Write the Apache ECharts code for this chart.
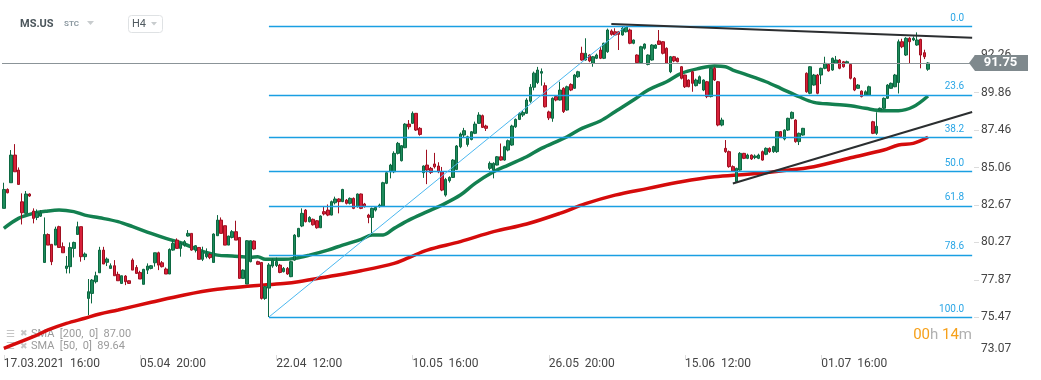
<!DOCTYPE html>
<html><head><meta charset="utf-8">
<script src="https://cdn.jsdelivr.net/npm/echarts@6/dist/echarts.min.js"></script>
<style>html,body{margin:0;padding:0;background:#fff}#c{width:1041px;height:380px}</style>
</head><body><div id="c"></div>
<script>
// ---- data ----
const tradingDays = ['17.03.2021','18.03','19.03','22.03','23.03','24.03','25.03','26.03','29.03','30.03','31.03',
'01.04','05.04','06.04','07.04','08.04','09.04','12.04','13.04','14.04','15.04','16.04','19.04','20.04','21.04','22.04','23.04','26.04','27.04','28.04','29.04','30.04',
'03.05','04.05','05.05','06.05','07.05','10.05','11.05','12.05','13.05','14.05','17.05','18.05','19.05','20.05','21.05','24.05','25.05','26.05','27.05','28.05',
'01.06','02.06','03.06','04.06','07.06','08.06','09.06','10.06','11.06','14.06','15.06','16.06','17.06','18.06','21.06','22.06','23.06','24.06','25.06','28.06','29.06','30.06',
'01.07','02.07','06.07','07.07','08.07','09.07','12.07','13.07','14.07','15.07','16.07','19.07','20.07','21.07','22.07'];
const firstDayHours = ['16:00','20:00'];
const barHours = ['12:00','16:00','20:00'];
const slotCount = 264;
const xTickLabels = ['17.03.2021  16:00','05.04  20:00','22.04  12:00','10.05  16:00','26.05  20:00','15.06  12:00','01.07  16:00'];
const yTickLabels = [73.07, 75.47, 77.87, 80.27, 82.67, 85.06, 87.46, 89.86, 92.26];
const yMin = 73.07, yMax = 94.82;

// [open, close, low, high]
const candles = [
[82.45,83.66,82.45,84.09],[83.66,83.45,83.41,83.73],[84.09,85.86,84.09,86.18],[85.86,84.79,84.79,86.56],[84.90,83.98,83.98,85.07],
[82.87,82.17,81.42,83.41],[82.13,83.37,82.13,83.56],[83.37,83.24,83.19,83.41],[82.28,81.81,81.49,82.45],[81.87,82.17,81.70,82.38],
[81.95,82.15,81.90,82.34],[78.99,80.78,78.99,81.87],[80.78,80.10,80.10,80.85],[80.15,79.04,78.82,80.15],[80.10,81.13,80.10,81.28],
[81.28,79.95,79.95,81.34],[80.00,79.61,79.61,80.27],[78.61,78.76,78.29,79.40],[78.72,79.95,78.29,80.27],[79.89,80.27,79.31,80.32],
[80.78,81.28,80.78,81.60],[81.28,79.36,79.04,81.28],[79.36,79.53,79.14,79.63],[76.69,77.12,75.62,77.93],[77.01,77.86,76.37,77.93],
[77.76,78.14,77.65,78.40],[78.33,79.78,78.33,79.99],[79.78,78.89,78.89,79.99],[79.00,79.21,78.76,79.31],[78.61,78.78,78.61,78.93],
[78.78,78.14,78.14,79.14],[78.23,77.82,77.82,78.40],[77.65,78.14,77.61,78.14],[78.12,77.76,77.54,78.18],[77.82,77.65,77.62,77.84],
[79.14,78.50,78.50,79.25],[78.67,78.29,78.25,78.82],[78.35,77.93,77.93,78.46],[77.59,78.55,77.59,78.58],[78.50,78.76,78.25,78.93],
[78.61,78.78,78.55,78.82],[78.97,79.61,78.72,79.61],[79.61,78.82,78.50,79.68],[78.97,78.72,78.67,79.08],[78.57,78.25,78.25,78.67],
[78.25,79.82,78.25,79.89],[79.78,80.21,79.74,80.42],[80.42,79.89,79.89,80.53],[79.89,80.21,79.36,80.32],[80.10,80.32,80.00,80.42],
[80.68,80.85,80.64,81.06],[80.85,79.78,79.74,80.85],[79.78,80.06,79.63,80.10],[79.95,79.19,79.19,79.95],[79.19,79.68,79.08,80.00],
[79.36,79.53,79.25,79.89],[79.50,79.30,79.20,79.60],[78.99,80.81,78.99,80.85],[80.70,81.70,80.70,82.02],[81.70,80.85,80.85,81.87],
[81.34,80.10,80.10,81.34],[80.10,80.68,80.10,80.70],[80.59,80.96,80.53,81.06],[80.96,80.42,80.42,81.66],[80.59,77.97,77.97,80.59],
[77.97,78.50,77.97,78.55],[77.61,80.38,77.61,80.42],[79.04,80.38,79.00,80.40],[80.36,79.85,79.78,80.40],[79.04,78.87,78.85,79.10],
[78.99,76.69,76.62,78.99],[76.69,77.44,76.60,77.50],[77.35,78.83,75.50,78.95],[78.76,79.14,78.65,79.25],[78.80,79.05,78.70,79.30],
[78.82,78.35,78.30,78.90],[78.40,78.61,78.35,78.70],[78.61,78.25,78.20,78.70],[78.08,79.04,78.05,79.10],[79.14,80.74,79.10,80.80],
[80.64,81.17,80.60,81.20],[81.32,82.13,81.25,82.45],[82.34,81.60,81.55,82.40],[81.60,81.87,81.55,81.95],[81.75,81.40,81.35,81.80],
[81.66,81.21,81.15,81.70],[81.21,81.96,81.20,82.00],[82.24,82.09,82.00,82.60],[82.34,82.02,81.95,82.70],[82.02,82.88,82.00,82.95],
[82.81,83.05,82.70,83.20],[83.05,82.88,82.13,83.10],[82.88,83.66,82.85,83.70],[82.98,82.77,82.70,83.05],[82.77,83.09,82.70,83.15],
[83.09,82.45,82.40,83.15],[82.56,83.37,82.50,83.40],[83.37,82.45,82.40,83.40],[82.73,82.56,82.50,82.80],[82.02,81.87,81.50,82.10],
[81.87,82.45,80.74,82.50],[82.34,82.51,82.25,82.60],[82.56,82.66,82.50,82.75],[82.60,84.09,82.55,84.15],[84.05,84.73,84.00,84.80],
[84.79,85.22,84.37,85.30],[84.79,85.97,84.70,86.10],[85.97,86.61,85.90,86.70],[85.50,86.46,85.45,86.50],[86.33,87.84,86.30,87.90],
[87.84,87.67,87.50,88.10],[87.89,88.53,87.85,88.65],[88.53,87.46,87.40,88.55],[87.57,87.18,87.10,87.65],[84.73,85.16,84.40,85.20],
[85.22,84.90,84.00,86.20],[85.01,84.75,84.65,85.10],[85.29,85.11,85.00,86.00],[85.16,84.79,84.70,85.40],[84.79,83.62,83.55,85.10],
[83.30,84.30,83.20,84.40],[84.22,84.43,84.10,84.50],[84.43,85.54,84.40,85.60],[84.94,86.44,84.90,86.50],[86.39,87.20,86.30,87.30],
[87.14,87.42,87.00,87.60],[86.54,87.03,86.40,87.10],[86.86,87.35,86.80,87.40],[87.25,87.84,87.20,88.00],[87.89,88.42,87.85,88.60],
[88.38,87.63,87.60,88.45],[87.72,87.57,87.40,87.80],[85.01,85.33,84.90,85.45],[84.90,85.33,84.37,85.40],[85.22,85.75,85.20,85.80],
[85.75,85.54,85.50,86.60],[85.54,86.39,85.50,86.45],[86.18,86.78,86.10,86.85],[86.50,87.72,86.45,87.80],[87.67,88.14,87.60,88.20],
[88.14,88.53,88.10,88.60],[88.42,88.59,88.30,88.70],[88.53,89.38,88.50,89.50],[89.30,90.20,89.20,90.40],[90.20,91.10,90.00,91.20],
[90.50,91.30,90.40,91.50],[91.10,91.20,90.30,91.40],[90.30,88.95,88.90,90.50],[88.62,88.24,88.10,88.70],[88.21,89.49,87.99,89.55],
[89.60,89.38,89.30,89.65],[89.38,90.02,89.35,90.55],[90.13,88.64,88.55,90.20],[88.74,90.23,88.70,90.30],[90.38,90.02,89.95,90.45],
[90.13,90.98,90.10,91.05],[90.87,91.19,90.80,91.25],[92.37,91.94,91.90,92.79],[91.94,92.37,91.90,93.33],[92.26,91.88,91.80,92.30],
[91.73,92.15,91.51,92.20],[92.05,92.26,92.00,92.35],[92.58,92.05,92.00,92.79],[92.05,93.01,92.00,93.05],[92.47,93.86,92.40,93.95],
[93.80,93.58,93.50,93.90],[93.75,93.54,93.50,93.97],[93.75,93.58,92.58,93.80],[93.54,93.97,93.50,94.07],[93.75,94.07,93.70,94.11],
[93.86,93.01,92.95,93.95],[93.01,93.22,92.95,93.25],[92.26,91.77,91.70,92.30],[91.77,92.79,91.75,92.85],[92.69,92.96,92.60,93.00],
[91.66,92.26,91.60,92.30],[91.94,92.90,91.90,92.95],[92.69,92.90,92.65,92.95],[93.16,92.94,92.90,93.86],[93.11,92.37,92.30,93.15],
[92.69,91.73,91.70,92.75],[91.19,92.15,91.10,92.20],[92.15,91.88,91.80,92.20],[92.05,91.83,91.80,92.10],[91.51,90.77,90.70,91.55],
[90.98,90.23,90.15,91.00],[90.66,90.23,90.20,90.70],[91.19,90.45,89.91,91.25],[90.30,90.66,90.25,90.75],[90.45,90.87,90.40,90.95],
[90.02,90.66,89.95,90.70],[90.55,89.60,89.50,90.60],[89.60,91.41,89.55,91.45],[91.41,90.66,90.60,91.50],[90.55,87.78,87.70,90.60],
[87.78,88.10,87.70,88.25],[86.29,86.08,86.00,86.82],[86.08,85.12,85.05,86.15],[85.12,84.84,84.80,85.20],[84.16,85.01,84.10,85.05],
[84.90,85.97,84.85,86.05],[85.97,85.65,85.60,86.00],[85.65,85.86,85.60,85.95],[85.86,85.61,85.55,85.90],[85.70,85.80,85.60,85.90],
[85.65,85.86,85.60,85.95],[86.08,85.54,85.50,86.15],[85.91,86.29,85.85,86.35],[86.29,86.08,86.00,86.35],[86.08,86.40,86.00,86.45],
[86.08,87.36,86.00,87.40],[87.36,87.04,87.00,87.40],[86.89,87.46,86.80,87.50],[87.46,88.21,87.40,88.25],[88.21,88.59,88.15,88.65],
[88.10,86.72,86.65,88.15],[86.72,87.25,86.50,87.30],[87.14,87.57,87.10,87.60],[91.09,89.91,89.85,91.15],[89.81,91.51,89.75,91.55],
[90.34,90.98,90.30,91.05],[90.98,89.81,89.75,91.05],[90.98,91.41,90.40,91.45],[91.41,91.73,91.35,92.15],[91.66,91.24,91.20,91.70],
[91.30,92.05,91.25,92.10],[91.73,91.94,91.70,92.20],[91.94,91.41,91.35,92.00],[91.83,91.51,91.45,91.88],[91.73,91.83,91.70,91.90],
[91.66,90.77,90.70,91.70],[90.77,90.02,89.95,90.85],[90.13,90.34,90.10,90.40],[89.95,89.60,89.55,90.00],[89.70,89.91,89.65,90.00],
[89.70,90.23,89.65,90.30],[87.99,87.25,87.20,88.05],[87.25,87.70,87.15,88.60],[88.74,88.85,88.70,88.90],[88.85,89.49,88.80,89.55],
[89.49,90.34,89.45,90.40],[90.13,90.45,90.10,90.50],[90.23,90.98,90.20,91.05],[90.50,93.11,89.80,93.25],[93.11,92.79,92.70,93.30],
[92.26,93.33,92.20,93.40],[93.33,93.11,91.73,93.40],[93.22,93.33,93.15,93.45],[92.90,93.22,92.85,93.71],[93.26,92.26,91.41,93.30],
[92.41,92.15,92.00,92.60],[91.35,91.75,91.25,91.80]
];

// SMA readings [bar index, value]
const sma50 = [[0,81.17],[4,81.81],[8,82.13],[12,82.28],[15,82.34],[19,82.24],[22,82.02],[26,81.85],[31,81.60],[35,81.28],[40,80.85],[44,80.53],[49,80.17],[53,79.78],[58,79.46],[62,79.40],[67,79.32],[69,79.36],[71,79.19],[76,79.19],[79,79.25],[83,79.46],[88,79.78],[92,80.10],[97,80.47],[100,80.74],[103,80.75],[106,81.17],[110,81.70],[115,82.24],[119,82.66],[124,83.30],[128,84.05],[133,84.79],[137,85.22],[142,85.75],[146,86.29],[151,86.82],[153,87.03],[157,87.57],[162,88.04],[166,88.63],[171,89.38],[175,90.02],[180,90.55],[184,91.09],[189,91.41],[193,91.56],[196,91.51],[198,91.30],[202,90.98],[207,90.55],[211,90.13],[216,89.59],[220,89.23],[225,89.11],[230,89.02],[234,88.85],[239,88.70],[243,88.70],[247,88.95],[251,89.64]];
const sma200 = [[0,73.50],[8,74.24],[12,74.67],[17,75.09],[22,75.42],[26,75.69],[31,75.95],[40,76.44],[49,76.91],[58,77.27],[67,77.48],[76,77.65],[80,77.76],[88,78.08],[97,78.46],[106,78.93],[110,79.30],[115,79.78],[124,80.32],[133,80.96],[142,81.45],[151,82.13],[158,82.75],[166,83.30],[175,83.73],[184,84.15],[193,84.47],[202,84.63],[211,84.84],[220,85.11],[230,85.69],[239,86.18],[243,86.50],[247,86.61],[251,87.00]];

const fibRatios = [0, 23.6, 38.2, 50, 61.8, 78.6, 100];
const fibLow = [72, 75.50];
const fibHigh = [169, 94.11];
const trendTop = [[165, 94.24], [263, 93.36]];
const trendBottom = [[198, 84.04], [263, 88.61]];
const lastPrice = 91.75;
const smaLegend = ['SMA  [200,  0]  87.00', 'SMA  [50,  0]  89.64'];

// ---- build ----
const categories = [];
tradingDays.forEach((d, k) => (k === 0 ? firstDayHours : barHours).forEach(h => categories.push(d + '  ' + h)));
categories.length = slotCount;
const lastIdx = slotCount - 1;

const fibLines = fibRatios.map(r => {
  const v = fibHigh[1] - r / 100 * (fibHigh[1] - fibLow[1]);
  return [{coord: [fibLow[0], v]}, {coord: [lastIdx, v], label: {formatter: r.toFixed(1)}}];
});

const chart = echarts.init(document.getElementById('c'), null, {renderer: 'canvas'});
const F = 'Roboto, "Noto Sans", sans-serif';
const showTick = (i, v) => xTickLabels.indexOf(v) >= 0;

chart.setOption({
  animation: false,
  backgroundColor: '#fff',
  grid: {left: 2, right: 67, top: 15, bottom: 25},
  xAxis: {
    type: 'category', data: categories, boundaryGap: true,
    axisLine: {show: false},
    axisTick: {show: true, interval: showTick, alignWithLabel: true, length: 5, lineStyle: {color: '#dcdcdc'}},
    axisLabel: {interval: showTick, align: 'left', color: '#454545', fontSize: 12, fontFamily: F, margin: 3},
    splitLine: {show: false}
  },
  yAxis: {
    type: 'value', position: 'right', min: yMin, max: yMax,
    axisLine: {show: false},
    splitLine: {show: false},
    axisTick: {show: true, customValues: yTickLabels.slice(1), length: 5, lineStyle: {color: '#dcdcdc'}},
    axisLabel: {
      customValues: yTickLabels, color: '#454545', fontSize: 12, fontFamily: F, margin: 7,
      formatter: v => v < yTickLabels[1] - 1 ? '{lo|' + v.toFixed(2) + '}' : v.toFixed(2),
      rich: {lo: {color: '#454545', fontSize: 12, fontFamily: F, padding: [0, 0, 12, 0]}}
    }
  },
  series: [
    {type: 'line', name: 'SMA200', data: sma200, smooth: 0.35, showSymbol: false, z: 2,
     lineStyle: {color: '#d50b0b', width: 3.5}},
    {type: 'line', name: 'SMA50', data: sma50, smooth: 0.35, showSymbol: false, z: 2,
     lineStyle: {color: '#138050', width: 3.5}},
    {type: 'candlestick', name: 'MS.US', data: candles, barWidth: 3, z: 3,
     itemStyle: {color: '#1d8b5b', color0: '#d8213a', borderColor: '#0c6841', borderColor0: '#a10f20', borderWidth: 1},
     markLine: {
       symbol: 'none', silent: true, animation: false,
       data: [
         ...fibLines.map(l => [Object.assign({}, l[0], {lineStyle: {color: '#1a9fe2', width: 1.3, type: 'solid'}}),
           Object.assign({}, l[1], {label: {show: true, formatter: l[1].label.formatter, position: 'insideEndTop', distance: [8, 3], color: '#2aa6e6', fontSize: 10, fontFamily: F}})]),
         [{coord: fibLow, lineStyle: {color: '#4cb8f0', width: 1, type: 'solid'}, label: {show: false}}, {coord: fibHigh}],
         [{coord: trendTop[0], lineStyle: {color: '#2b2e30', width: 2, type: 'solid'}, label: {show: false}}, {coord: trendTop[1]}],
         [{coord: trendBottom[0], lineStyle: {color: '#2b2e30', width: 2, type: 'solid'}, label: {show: false}}, {coord: trendBottom[1]}],
         {yAxis: lastPrice, lineStyle: {color: '#8b9498', width: 1, type: 'solid'}, label: {show: false}}
       ]
     }}
  ]
});

const py = chart.convertToPixel({yAxisIndex: 0}, lastPrice);
const tipX = 969, boxL = 975, boxR = 1028, hh = 8;
chart.setOption({
  graphic: [
    {type: 'polygon', shape: {points: [[tipX, py], [boxL, py - hh], [boxR, py - hh], [boxR, py + hh], [boxL, py + hh]]}, style: {fill: '#7f898d'}, z: 100},
    {type: 'text', x: (boxL + boxR) / 2 - 1, y: py, z: 101, style: {text: lastPrice.toFixed(2), fill: '#fff', font: 'bold 13px ' + F, align: 'center', verticalAlign: 'middle'}},
    {type: 'text', x: 20, y: 24, style: {text: 'MS.US', fill: '#4b555b', font: 'bold 11px ' + F, verticalAlign: 'middle'}},
    {type: 'text', x: 64, y: 24, style: {text: 'STC', fill: '#8d9aa2', font: 'bold 8px ' + F, verticalAlign: 'middle'}},
    {type: 'polygon', shape: {points: [[87, 21], [94, 21], [90.5, 25]]}, style: {fill: '#c8ccce'}},
    {type: 'rect', shape: {x: 128.5, y: 15.5, width: 34, height: 17, r: 3}, style: {fill: '#fff', stroke: '#dfe2e4', lineWidth: 1}},
    {type: 'text', x: 132, y: 24, style: {text: 'H4', fill: '#505a60', font: '11px ' + F, verticalAlign: 'middle'}},
    {type: 'polygon', shape: {points: [[151, 22], [157, 22], [154, 25.5]]}, style: {fill: '#c8ccce'}},
    {type: 'text', x: 972, y: 335, z: 50, style: {
      text: '{o|00}{g|h }{o|14}{g|m}', align: 'right', verticalAlign: 'middle',
      rich: {o: {fill: '#f6a01a', font: '15px ' + F}, g: {fill: '#b0b0b0', font: '15px ' + F}}}},
    ...smaLegend.map((t, k) => ({type: 'group', children: [
      {type: 'text', x: 6, y: 334 + k * 12.5, style: {text: '☰', fill: '#c5c5c5', font: '10px "DejaVu Sans"', verticalAlign: 'middle'}},
      {type: 'text', x: 20, y: 334 + k * 12.5, style: {text: '✖', fill: '#c5c5c5', font: '9px "DejaVu Sans"', verticalAlign: 'middle'}},
      {type: 'text', x: 31, y: 334 + k * 12.5, style: {text: t, fill: '#9b9b9b', font: '11px ' + F, verticalAlign: 'middle'}}
    ]}))
  ]
});
</script></body></html>
